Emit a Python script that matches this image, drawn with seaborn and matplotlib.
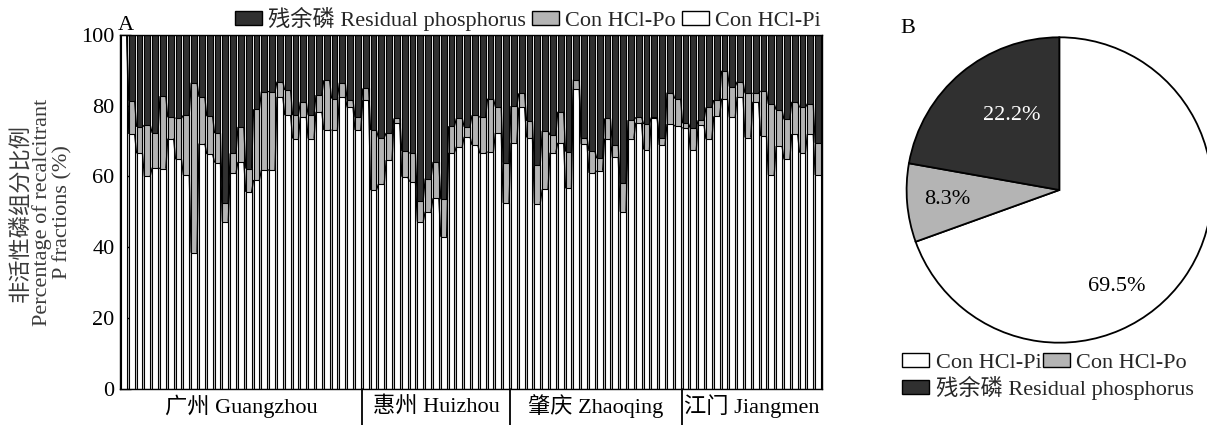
import numpy as np
import pandas as pd
import matplotlib
matplotlib.use("Agg")
import matplotlib.pyplot as plt
import matplotlib.transforms as mtransforms
from matplotlib.patches import Patch
import seaborn as sns

# ---------------- data ----------------
cities = ["广州 Guangzhou", "惠州 Huizhou", "肇庆 Zhaoqing", "江门 Jiangmen"]
city_counts = [31, 19, 22, 18]

hcl_pi = [100.0, 72.0, 66.5, 60.0, 62.5, 62.2, 70.7, 64.8, 60.4, 38.4,
          69.3, 66.3, 63.9, 47.2, 61.0, 64.1, 55.6, 59.0, 61.8, 61.8,
          82.5, 77.3, 70.7, 76.9, 70.7, 78.3, 73.1, 73.1, 82.5, 79.5,
          73.1, 81.6, 56.1, 57.8, 64.6, 75.0, 59.9, 58.5, 47.2, 50.0,
          53.8, 42.9, 66.7, 68.4, 71.2, 68.9, 66.5, 67.0, 72.3, 52.5,
          69.5, 79.5, 71.0, 52.3, 56.3, 66.7, 69.5, 56.6, 84.6, 69.1,
          61.0, 61.6, 70.7, 65.4, 50.0, 70.7, 75.2, 67.6, 76.4, 68.9,
          74.8, 74.2, 73.6, 67.4, 74.5, 70.5, 77.0, 82.0, 76.7, 82.5,
          71.0, 81.1, 71.4, 60.4, 68.6, 64.8, 72.0, 66.7, 72.0, 60.4]
hcl_po = [0.0, 9.4, 7.5, 14.5, 9.8, 20.5, 6.0, 11.6, 16.9, 48.1,
          13.2, 10.7, 8.3, 5.3, 5.5, 9.9, 6.6, 20.0, 22.2, 22.2,
          4.3, 7.1, 6.6, 4.2, 6.6, 4.7, 14.1, 8.9, 4.0, 2.1,
          3.6, 3.3, 17.0, 13.2, 7.7, 1.4, 7.3, 8.0, 5.9, 9.4,
          10.3, 10.6, 7.5, 8.0, 2.8, 8.4, 10.2, 15.0, 7.4, 11.4,
          10.4, 4.0, 4.7, 10.9, 16.6, 5.0, 8.8, 10.4, 2.8, 1.9,
          6.2, 3.5, 5.7, 3.5, 8.0, 5.2, 1.5, 7.2, 0.3, 2.1,
          8.9, 7.8, 1.4, 6.2, 1.4, 9.0, 4.6, 7.9, 8.7, 4.3,
          12.5, 2.4, 12.8, 20.1, 10.2, 11.3, 9.1, 12.8, 8.6, 9.1]
residual = [0.0, 18.6, 26.0, 25.5, 27.7, 17.3, 23.3, 23.6, 22.7, 13.5,
            17.5, 23.0, 27.8, 47.5, 33.5, 26.0, 37.8, 21.0, 16.0, 16.0,
            13.2, 15.6, 22.7, 18.9, 22.7, 17.0, 12.8, 18.0, 13.5, 18.4,
            23.3, 15.1, 26.9, 29.0, 27.7, 23.6, 32.8, 33.5, 46.9, 40.6,
            35.9, 46.5, 25.8, 23.6, 26.0, 22.7, 23.3, 18.0, 20.3, 36.1,
            20.1, 16.5, 24.3, 36.8, 27.1, 28.3, 21.7, 33.0, 12.6, 29.0,
            32.8, 34.9, 23.6, 31.1, 42.0, 24.1, 23.3, 25.2, 23.3, 29.0,
            16.3, 18.0, 25.0, 26.4, 24.1, 20.5, 18.4, 10.1, 14.6, 13.2,
            16.5, 16.5, 15.8, 19.5, 21.2, 23.9, 18.9, 20.5, 19.4, 30.5]

pie_labels = ["Con HCl-Pi", "Con HCl-Po", "残余磷 Residual phosphorus"]
pie_values = [69.5, 8.3, 22.2]

# ---------------- style ----------------
DARK = "#303030"
GRAY = "#b4b4b4"
WHITE = "#ffffff"
FS = 16

sns.set_theme(style="ticks")
plt.rcParams["font.family"] = ["Liberation Serif", "Noto Sans CJK SC"]
plt.rcParams["font.size"] = FS
plt.rcParams["axes.unicode_minus"] = False

W_PX, H_PX = 1207, 425
fig = plt.figure(figsize=(W_PX / 100, H_PX / 100), dpi=100)

# ---------------- panel A ----------------
ax = fig.add_axes([120 / W_PX, 1 - 388.5 / H_PX, 702 / W_PX, 353.5 / H_PX])

pi = np.array(hcl_pi)
po = np.array(hcl_po)
res = np.array(residual)
n = len(pi)
df = pd.DataFrame({"sample": np.arange(n),
                   "pi": pi,
                   "pipo": pi + po,
                   "total": pi + po + res})

BW = 0.75
for col, colr in [("total", DARK), ("pipo", GRAY), ("pi", WHITE)]:
    sns.barplot(data=df, x="sample", y=col, color=colr, saturation=1,
                width=BW, edgecolor="black", linewidth=0.8, errorbar=None,
                ax=ax)

# series lines connecting the segment tops of neighbouring bars
for col in ["pi", "pipo"]:
    v = df[col].to_numpy()
    xs, ys = [], []
    for i in range(n - 1):
        xs += [i + BW / 2, i + 1 - BW / 2, np.nan]
        ys += [v[i], v[i + 1], np.nan]
    ax.plot(xs, ys, color="black", lw=0.9, solid_capstyle="butt")

ax.set_xlim(-0.5, n - 0.5)
ax.set_ylim(0, 100)
ax.set_yticks(np.arange(0, 101, 20))
ax.set_xticks([])
ax.set_xlabel("")
ax.set_ylabel("")
ax.tick_params(axis="y", direction="in", length=8, width=1, labelsize=FS,
               pad=4, colors="black")
for s in ax.spines.values():
    s.set_visible(True)
    s.set_color("black")
    s.set_linewidth(1.0)

# group labels and separators
trans = mtransforms.blended_transform_factory(ax.transData, ax.transAxes)
start = 0
for k, (name, cnt) in enumerate(zip(cities, city_counts)):
    end = start + cnt
    ax.text((start + end - 1) / 2, -0.05, name, transform=trans,
            ha="center", va="center", fontsize=FS, color="black")
    if k < len(cities) - 1:
        ax.plot([end - 0.5, end - 0.5], [0.0, -0.12], transform=trans,
                color="black", lw=1.3, clip_on=False)
    start = end

fig.text(118 / W_PX, 1 - 25 / H_PX, "A", ha="left", va="center",
         fontsize=FS, color="black")

fig.text(41 / W_PX, 0.50,
         "非活性磷组分比例\nPercentage of recalcitrant\nP fractions (%)",
         rotation=90, ha="center", va="center", multialignment="center",
         linespacing=1.05, fontsize=FS, color="#3a3a3a")

top_handles = [Patch(facecolor=DARK, edgecolor="black", label="残余磷 Residual phosphorus"),
               Patch(facecolor=GRAY, edgecolor="black", label="Con HCl-Po"),
               Patch(facecolor=WHITE, edgecolor="black", label="Con HCl-Pi")]
fig.legend(handles=top_handles, loc="center left",
           bbox_to_anchor=(235 / W_PX, 1 - 19 / H_PX), ncol=3, frameon=False,
           fontsize=FS, handlelength=1.22, handleheight=0.55,
           handletextpad=0.25, columnspacing=0.3, borderpad=0,
           borderaxespad=0)

# ---------------- panel B ----------------
R = 152.7
cx, cy = 1059.3, 190.0
side = 2.5 * R
axp = fig.add_axes([(cx - side / 2) / W_PX, 1 - (cy + side / 2) / H_PX,
                    side / W_PX, side / H_PX])
wedges, texts, autotexts = axp.pie(
    pie_values, colors=[WHITE, GRAY, DARK], startangle=90, counterclock=False,
    autopct="%.1f%%", pctdistance=0.7,
    wedgeprops=dict(edgecolor="black", linewidth=1.3),
    textprops=dict(fontsize=FS, color="black"))
axp.set_xlim(-1.25, 1.25)
axp.set_ylim(-1.25, 1.25)
axp.set_aspect("equal")
axp.set_axis_off()
label_pos = [(0.376, -0.635), (-0.737, -0.059), (-0.312, 0.491)]
for t, p in zip(autotexts, label_pos):
    t.set_position(p)
    t.set_ha("center")
    t.set_va("center")
autotexts[2].set_color("white")

fig.text(900 / W_PX, 1 - 28.5 / H_PX, "B", ha="left", va="center",
         fontsize=FS, color="black")

pie_handles = [Patch(facecolor=c, edgecolor="black", label=l)
               for c, l in zip([WHITE, GRAY, DARK], pie_labels)]
leg_kw = dict(frameon=False, fontsize=FS, handlelength=1.22,
              handleheight=0.55, handletextpad=0.3, columnspacing=0.05,
              borderpad=0, borderaxespad=0)
fig.legend(handles=pie_handles[:2], loc="center left",
           bbox_to_anchor=(902 / W_PX, 1 - 363 / H_PX), ncol=2, **leg_kw)
fig.legend(handles=pie_handles[2:], loc="center left",
           bbox_to_anchor=(902 / W_PX, 1 - 388 / H_PX), ncol=1, **leg_kw)

fig.savefig("out.png", dpi=100)
